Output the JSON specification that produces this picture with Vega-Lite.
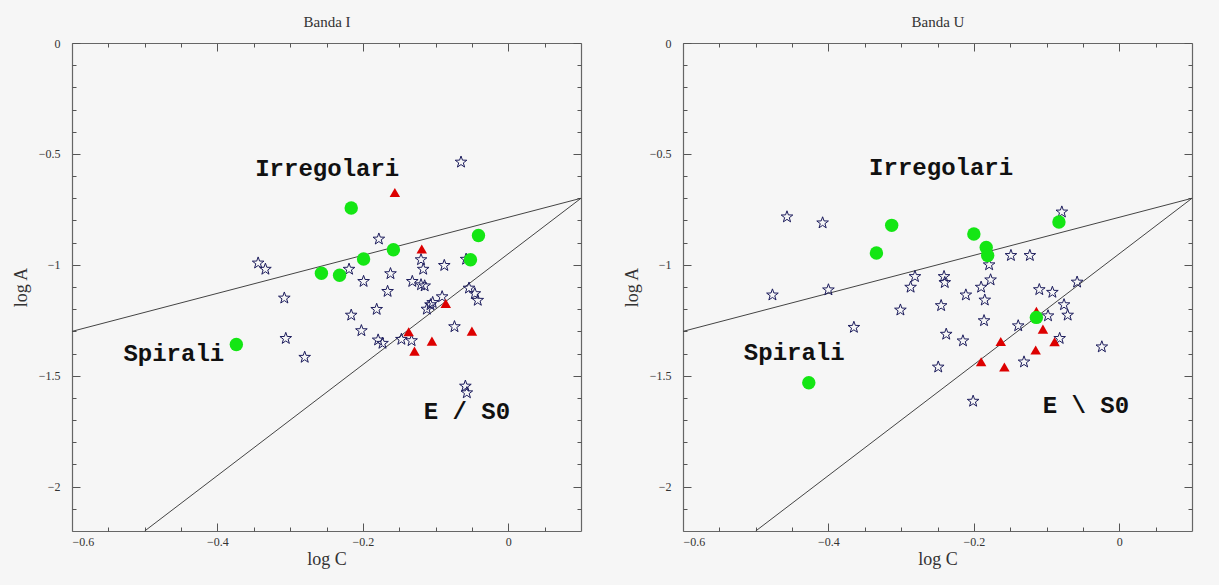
{
  "$schema": "https://vega.github.io/schema/vega-lite/v6.json",
  "autosize": {"type": "none"},
  "width": 1120,
  "height": 488,
  "padding": {"left": 72, "top": 43, "right": 27, "bottom": 54},
  "background": "#f6f6f6",
  "config": {
    "view": {"stroke": null},
    "axis": {"grid": false, "labelFont": "Liberation Serif", "labelFontSize": 12, "labelColor": "#333333", "titleFont": "Liberation Serif", "titleFontSize": 18, "titleFontWeight": "normal", "titleColor": "#333333", "tickColor": "#555555", "tickWidth": 1, "domainColor": "#666666", "domainWidth": 1.2}
  },
  "data": {"values": [
    {"p": "I", "t": "seg", "logC": -0.6, "logA": -1.3, "logC2": 0.1, "logA2": -0.7},
    {"p": "I", "t": "seg", "logC": -0.5, "logA": -2.2, "logC2": 0.1, "logA2": -0.7},
    {"p": "U", "t": "seg", "logC": -0.6, "logA": -1.3, "logC2": 0.1, "logA2": -0.7},
    {"p": "U", "t": "seg", "logC": -0.5, "logA": -2.2, "logC2": 0.1, "logA2": -0.7},
    {"p": "I", "t": "star", "logC": -0.065, "logA": -0.537},
    {"p": "I", "t": "star", "logC": -0.178, "logA": -0.884},
    {"p": "I", "t": "star", "logC": -0.344, "logA": -0.992},
    {"p": "I", "t": "star", "logC": -0.334, "logA": -1.02},
    {"p": "I", "t": "star", "logC": -0.219, "logA": -1.02},
    {"p": "I", "t": "star", "logC": -0.199, "logA": -1.075},
    {"p": "I", "t": "star", "logC": -0.162, "logA": -1.04},
    {"p": "I", "t": "star", "logC": -0.166, "logA": -1.12},
    {"p": "I", "t": "star", "logC": -0.132, "logA": -1.075},
    {"p": "I", "t": "star", "logC": -0.12, "logA": -0.977},
    {"p": "I", "t": "star", "logC": -0.117, "logA": -1.02},
    {"p": "I", "t": "star", "logC": -0.12, "logA": -1.09},
    {"p": "I", "t": "star", "logC": -0.115, "logA": -1.095},
    {"p": "I", "t": "star", "logC": -0.088, "logA": -1.003},
    {"p": "I", "t": "star", "logC": -0.058, "logA": -0.975},
    {"p": "I", "t": "star", "logC": -0.054, "logA": -1.105},
    {"p": "I", "t": "star", "logC": -0.046, "logA": -1.13},
    {"p": "I", "t": "star", "logC": -0.042, "logA": -1.16},
    {"p": "I", "t": "star", "logC": -0.308, "logA": -1.15},
    {"p": "I", "t": "star", "logC": -0.091, "logA": -1.144},
    {"p": "I", "t": "star", "logC": -0.107, "logA": -1.18},
    {"p": "I", "t": "star", "logC": -0.112, "logA": -1.2},
    {"p": "I", "t": "star", "logC": -0.104, "logA": -1.17},
    {"p": "I", "t": "star", "logC": -0.216, "logA": -1.227},
    {"p": "I", "t": "star", "logC": -0.181, "logA": -1.201},
    {"p": "I", "t": "star", "logC": -0.202, "logA": -1.297},
    {"p": "I", "t": "star", "logC": -0.074, "logA": -1.279},
    {"p": "I", "t": "star", "logC": -0.306, "logA": -1.332},
    {"p": "I", "t": "star", "logC": -0.28, "logA": -1.417},
    {"p": "I", "t": "star", "logC": -0.179, "logA": -1.339},
    {"p": "I", "t": "star", "logC": -0.173, "logA": -1.354},
    {"p": "I", "t": "star", "logC": -0.147, "logA": -1.336},
    {"p": "I", "t": "star", "logC": -0.133, "logA": -1.342},
    {"p": "I", "t": "star", "logC": -0.059, "logA": -1.547},
    {"p": "I", "t": "star", "logC": -0.057, "logA": -1.577},
    {"p": "I", "t": "tri", "logC": -0.156, "logA": -0.674},
    {"p": "I", "t": "tri", "logC": -0.119, "logA": -0.929},
    {"p": "I", "t": "tri", "logC": -0.086, "logA": -1.174},
    {"p": "I", "t": "tri", "logC": -0.137, "logA": -1.302},
    {"p": "I", "t": "tri", "logC": -0.105, "logA": -1.344},
    {"p": "I", "t": "tri", "logC": -0.129, "logA": -1.389},
    {"p": "I", "t": "tri", "logC": -0.05, "logA": -1.299},
    {"p": "I", "t": "circ", "logC": -0.216, "logA": -0.744},
    {"p": "I", "t": "circ", "logC": -0.041, "logA": -0.868},
    {"p": "I", "t": "circ", "logC": -0.158, "logA": -0.932},
    {"p": "I", "t": "circ", "logC": -0.199, "logA": -0.974},
    {"p": "I", "t": "circ", "logC": -0.052, "logA": -0.977},
    {"p": "I", "t": "circ", "logC": -0.257, "logA": -1.038},
    {"p": "I", "t": "circ", "logC": -0.232, "logA": -1.047},
    {"p": "I", "t": "circ", "logC": -0.374, "logA": -1.359},
    {"p": "I", "t": "label", "logC": -0.249, "logA": -0.568, "txt": "Irregolari"},
    {"p": "I", "t": "label", "logC": -0.46, "logA": -1.402, "txt": "Spirali"},
    {"p": "I", "t": "label", "logC": -0.057, "logA": -1.662, "txt": "E / S0"},
    {"p": "U", "t": "star", "logC": -0.457, "logA": -0.784},
    {"p": "U", "t": "star", "logC": -0.408, "logA": -0.811},
    {"p": "U", "t": "star", "logC": -0.079, "logA": -0.762},
    {"p": "U", "t": "star", "logC": -0.149, "logA": -0.958},
    {"p": "U", "t": "star", "logC": -0.123, "logA": -0.958},
    {"p": "U", "t": "star", "logC": -0.179, "logA": -1.0},
    {"p": "U", "t": "star", "logC": -0.177, "logA": -1.068},
    {"p": "U", "t": "star", "logC": -0.19, "logA": -1.101},
    {"p": "U", "t": "star", "logC": -0.281, "logA": -1.053},
    {"p": "U", "t": "star", "logC": -0.287, "logA": -1.101},
    {"p": "U", "t": "star", "logC": -0.241, "logA": -1.053},
    {"p": "U", "t": "star", "logC": -0.24, "logA": -1.08},
    {"p": "U", "t": "star", "logC": -0.211, "logA": -1.136},
    {"p": "U", "t": "star", "logC": -0.477, "logA": -1.136},
    {"p": "U", "t": "star", "logC": -0.4, "logA": -1.113},
    {"p": "U", "t": "star", "logC": -0.11, "logA": -1.112},
    {"p": "U", "t": "star", "logC": -0.092, "logA": -1.124},
    {"p": "U", "t": "star", "logC": -0.058, "logA": -1.078},
    {"p": "U", "t": "star", "logC": -0.185, "logA": -1.159},
    {"p": "U", "t": "star", "logC": -0.301, "logA": -1.204},
    {"p": "U", "t": "star", "logC": -0.245, "logA": -1.184},
    {"p": "U", "t": "star", "logC": -0.186, "logA": -1.252},
    {"p": "U", "t": "star", "logC": -0.365, "logA": -1.282},
    {"p": "U", "t": "star", "logC": -0.238, "logA": -1.313},
    {"p": "U", "t": "star", "logC": -0.215, "logA": -1.343},
    {"p": "U", "t": "star", "logC": -0.139, "logA": -1.275},
    {"p": "U", "t": "star", "logC": -0.098, "logA": -1.23},
    {"p": "U", "t": "star", "logC": -0.076, "logA": -1.18},
    {"p": "U", "t": "star", "logC": -0.071, "logA": -1.227},
    {"p": "U", "t": "star", "logC": -0.082, "logA": -1.332},
    {"p": "U", "t": "star", "logC": -0.024, "logA": -1.37},
    {"p": "U", "t": "star", "logC": -0.131, "logA": -1.438},
    {"p": "U", "t": "star", "logC": -0.249, "logA": -1.461},
    {"p": "U", "t": "star", "logC": -0.201, "logA": -1.615},
    {"p": "U", "t": "tri", "logC": -0.114, "logA": -1.21},
    {"p": "U", "t": "tri", "logC": -0.105, "logA": -1.29},
    {"p": "U", "t": "tri", "logC": -0.163, "logA": -1.346},
    {"p": "U", "t": "tri", "logC": -0.089, "logA": -1.347},
    {"p": "U", "t": "tri", "logC": -0.115, "logA": -1.384},
    {"p": "U", "t": "tri", "logC": -0.19, "logA": -1.437},
    {"p": "U", "t": "tri", "logC": -0.158, "logA": -1.461},
    {"p": "U", "t": "circ", "logC": -0.313, "logA": -0.822},
    {"p": "U", "t": "circ", "logC": -0.334, "logA": -0.947},
    {"p": "U", "t": "circ", "logC": -0.2, "logA": -0.861},
    {"p": "U", "t": "circ", "logC": -0.183, "logA": -0.922},
    {"p": "U", "t": "circ", "logC": -0.181, "logA": -0.958},
    {"p": "U", "t": "circ", "logC": -0.083, "logA": -0.807},
    {"p": "U", "t": "circ", "logC": -0.114, "logA": -1.237},
    {"p": "U", "t": "circ", "logC": -0.427, "logA": -1.532},
    {"p": "U", "t": "label", "logC": -0.245, "logA": -0.563, "txt": "Irregolari"},
    {"p": "U", "t": "label", "logC": -0.447, "logA": -1.396, "txt": "Spirali"},
    {"p": "U", "t": "label", "logC": -0.046, "logA": -1.637, "txt": "E \\ S0"}
  ]},
  "resolve": {"scale": {"x": "independent", "y": "independent"}, "axis": {"x": "independent", "y": "independent"}},
  "layer": [
    {
      "transform": [{"filter": "datum.p == 'I' && datum.t == 'seg'"}],
      "mark": {"type": "rule", "color": "#444444", "strokeWidth": 1},
      "encoding": {
        "x": {"field": "logC", "type": "quantitative", "scale": {"domain": [-0.6, 0.1], "range": [0, 509], "nice": false, "zero": false}, "axis": {"orient": "bottom", "values": [-0.6, -0.4, -0.2, 0], "format": "~g", "tickSize": -8, "labelPadding": 13, "title": "log C", "titlePadding": 3}},
        "x2": {"field": "logC2"},
        "y": {"field": "logA", "type": "quantitative", "scale": {"domain": [-2.2, 0], "nice": false, "zero": false}, "axis": {"orient": "left", "values": [0, -0.5, -1, -1.5, -2], "format": "~g", "tickSize": -8, "labelPadding": 20, "title": "log A", "titlePadding": 8}},
        "y2": {"field": "logA2"}
      }
    },
    {
      "transform": [{"filter": "datum.p == 'I' && datum.t == 'star'"}],
      "mark": {"type": "point", "shape": "M0,-1L0.235,-0.324L0.951,-0.309L0.38,0.124L0.588,0.809L0,0.4L-0.588,0.809L-0.38,0.124L-0.951,-0.309L-0.235,-0.324Z", "filled": false, "stroke": "#1c1c5c", "strokeWidth": 1, "size": 150, "opacity": 1},
      "encoding": {
        "x": {"field": "logC", "type": "quantitative", "scale": {"domain": [-0.6, 0.1], "range": [0, 509], "nice": false, "zero": false}, "axis": {"orient": "bottom", "values": [-0.55, -0.5, -0.45, -0.35, -0.3, -0.25, -0.15, -0.1, -0.05, 0.05], "tickSize": -4, "labels": false, "domain": false, "title": null}},
        "y": {"field": "logA", "type": "quantitative", "scale": {"domain": [-2.2, 0], "nice": false, "zero": false}, "axis": {"orient": "left", "values": [-0.1, -0.2, -0.3, -0.4, -0.6, -0.7, -0.8, -0.9, -1.1, -1.2, -1.3, -1.4, -1.6, -1.7, -1.8, -1.9, -2.1], "tickSize": -4, "labels": false, "domain": false, "title": null}}
      }
    },
    {
      "transform": [{"filter": "datum.p == 'I' && datum.t == 'tri'"}],
      "mark": {"type": "point", "shape": "triangle-up", "filled": true, "color": "#dd0000", "size": 110, "opacity": 1},
      "encoding": {
        "x": {"field": "logC", "type": "quantitative", "scale": {"domain": [-0.6, 0.1], "range": [0, 509], "nice": false, "zero": false}, "axis": {"orient": "top", "values": [-0.6, -0.4, -0.2, 0], "tickSize": -8, "labels": false, "title": "Banda I", "titleFontSize": 15, "titlePadding": 13}},
        "y": {"field": "logA", "type": "quantitative", "scale": {"domain": [-2.2, 0], "nice": false, "zero": false}, "axis": {"orient": "right", "offset": -611, "values": [0, -0.5, -1, -1.5, -2], "tickSize": -8, "labels": false, "title": null}}
      }
    },
    {
      "transform": [{"filter": "datum.p == 'I' && datum.t == 'circ'"}],
      "mark": {"type": "circle", "color": "#14e614", "size": 180, "opacity": 1},
      "encoding": {
        "x": {"field": "logC", "type": "quantitative", "scale": {"domain": [-0.6, 0.1], "range": [0, 509], "nice": false, "zero": false}, "axis": {"orient": "top", "values": [-0.55, -0.5, -0.45, -0.35, -0.3, -0.25, -0.15, -0.1, -0.05, 0.05], "tickSize": -4, "labels": false, "domain": false, "title": null}},
        "y": {"field": "logA", "type": "quantitative", "scale": {"domain": [-2.2, 0], "nice": false, "zero": false}, "axis": {"orient": "right", "offset": -611, "values": [-0.1, -0.2, -0.3, -0.4, -0.6, -0.7, -0.8, -0.9, -1.1, -1.2, -1.3, -1.4, -1.6, -1.7, -1.8, -1.9, -2.1], "tickSize": -4, "labels": false, "domain": false, "title": null}}
      }
    },
    {
      "transform": [{"filter": "datum.p == 'I' && datum.t == 'label'"}],
      "mark": {"type": "text", "font": "Liberation Mono", "fontWeight": "bold", "fontSize": 24, "color": "#111111", "align": "center", "baseline": "middle"},
      "encoding": {
        "x": {"field": "logC", "type": "quantitative", "scale": {"domain": [-0.6, 0.1], "range": [0, 509], "nice": false, "zero": false}, "axis": null},
        "y": {"field": "logA", "type": "quantitative", "scale": {"domain": [-2.2, 0], "nice": false, "zero": false}, "axis": null},
        "text": {"field": "txt", "type": "nominal"}
      }
    },
    {
      "transform": [{"filter": "datum.p == 'U' && datum.t == 'seg'"}],
      "mark": {"type": "rule", "color": "#444444", "strokeWidth": 1},
      "encoding": {
        "x": {"field": "logC", "type": "quantitative", "scale": {"domain": [-0.6, 0.1], "range": [611, 1120], "nice": false, "zero": false}, "axis": {"orient": "bottom", "values": [-0.6, -0.4, -0.2, 0], "format": "~g", "tickSize": -8, "labelPadding": 13, "title": "log C", "titlePadding": 3}},
        "x2": {"field": "logC2"},
        "y": {"field": "logA", "type": "quantitative", "scale": {"domain": [-2.2, 0], "nice": false, "zero": false}, "axis": {"orient": "left", "offset": -611, "values": [0, -0.5, -1, -1.5, -2], "format": "~g", "tickSize": -8, "labelPadding": 20, "title": "log A", "titlePadding": 8}},
        "y2": {"field": "logA2"}
      }
    },
    {
      "transform": [{"filter": "datum.p == 'U' && datum.t == 'star'"}],
      "mark": {"type": "point", "shape": "M0,-1L0.235,-0.324L0.951,-0.309L0.38,0.124L0.588,0.809L0,0.4L-0.588,0.809L-0.38,0.124L-0.951,-0.309L-0.235,-0.324Z", "filled": false, "stroke": "#1c1c5c", "strokeWidth": 1, "size": 150, "opacity": 1},
      "encoding": {
        "x": {"field": "logC", "type": "quantitative", "scale": {"domain": [-0.6, 0.1], "range": [611, 1120], "nice": false, "zero": false}, "axis": {"orient": "bottom", "values": [-0.55, -0.5, -0.45, -0.35, -0.3, -0.25, -0.15, -0.1, -0.05, 0.05], "tickSize": -4, "labels": false, "domain": false, "title": null}},
        "y": {"field": "logA", "type": "quantitative", "scale": {"domain": [-2.2, 0], "nice": false, "zero": false}, "axis": {"orient": "left", "offset": -611, "values": [-0.1, -0.2, -0.3, -0.4, -0.6, -0.7, -0.8, -0.9, -1.1, -1.2, -1.3, -1.4, -1.6, -1.7, -1.8, -1.9, -2.1], "tickSize": -4, "labels": false, "domain": false, "title": null}}
      }
    },
    {
      "transform": [{"filter": "datum.p == 'U' && datum.t == 'tri'"}],
      "mark": {"type": "point", "shape": "triangle-up", "filled": true, "color": "#dd0000", "size": 110, "opacity": 1},
      "encoding": {
        "x": {"field": "logC", "type": "quantitative", "scale": {"domain": [-0.6, 0.1], "range": [611, 1120], "nice": false, "zero": false}, "axis": {"orient": "top", "values": [-0.6, -0.4, -0.2, 0], "tickSize": -8, "labels": false, "title": "Banda U", "titleFontSize": 15, "titlePadding": 13}},
        "y": {"field": "logA", "type": "quantitative", "scale": {"domain": [-2.2, 0], "nice": false, "zero": false}, "axis": {"orient": "right", "values": [0, -0.5, -1, -1.5, -2], "tickSize": -8, "labels": false, "title": null}}
      }
    },
    {
      "transform": [{"filter": "datum.p == 'U' && datum.t == 'circ'"}],
      "mark": {"type": "circle", "color": "#14e614", "size": 180, "opacity": 1},
      "encoding": {
        "x": {"field": "logC", "type": "quantitative", "scale": {"domain": [-0.6, 0.1], "range": [611, 1120], "nice": false, "zero": false}, "axis": {"orient": "top", "values": [-0.55, -0.5, -0.45, -0.35, -0.3, -0.25, -0.15, -0.1, -0.05, 0.05], "tickSize": -4, "labels": false, "domain": false, "title": null}},
        "y": {"field": "logA", "type": "quantitative", "scale": {"domain": [-2.2, 0], "nice": false, "zero": false}, "axis": {"orient": "right", "values": [-0.1, -0.2, -0.3, -0.4, -0.6, -0.7, -0.8, -0.9, -1.1, -1.2, -1.3, -1.4, -1.6, -1.7, -1.8, -1.9, -2.1], "tickSize": -4, "labels": false, "domain": false, "title": null}}
      }
    },
    {
      "transform": [{"filter": "datum.p == 'U' && datum.t == 'label'"}],
      "mark": {"type": "text", "font": "Liberation Mono", "fontWeight": "bold", "fontSize": 24, "color": "#111111", "align": "center", "baseline": "middle"},
      "encoding": {
        "x": {"field": "logC", "type": "quantitative", "scale": {"domain": [-0.6, 0.1], "range": [611, 1120], "nice": false, "zero": false}, "axis": null},
        "y": {"field": "logA", "type": "quantitative", "scale": {"domain": [-2.2, 0], "nice": false, "zero": false}, "axis": null},
        "text": {"field": "txt", "type": "nominal"}
      }
    }
  ]
}
